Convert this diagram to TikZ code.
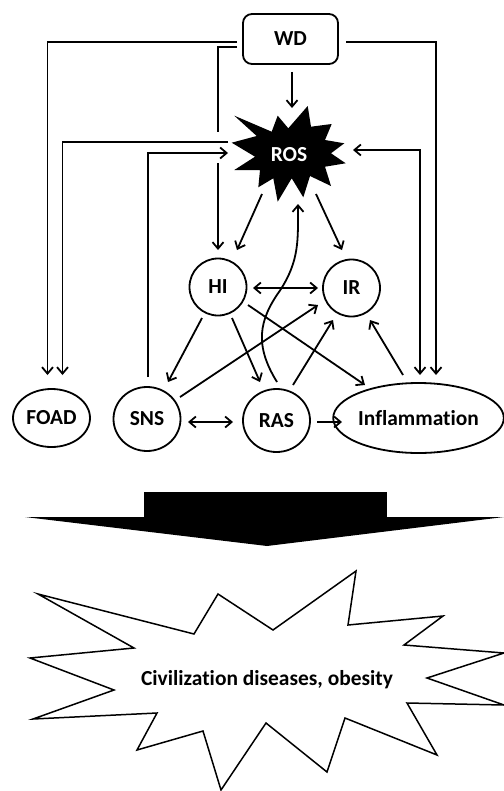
\documentclass[tikz,border=0pt]{standalone}
\usepackage{fontspec}
\setmainfont{Carlito}[Ligatures={NoCommon}]
\usetikzlibrary{arrows.meta,calc,shapes.geometric}
\begin{document}
\begin{tikzpicture}[x=1bp,y=-1bp, line width=1.8bp,
 tip/.tip={Straight Barb[length=6.5bp,width=11bp]},
 arr/.style={-tip},
 darr/.style={tip-tip},
 lbl/.style={font=\fontsize{21.5}{24}\selectfont\bfseries},
 oval/.style={ellipse, draw, lbl, inner sep=0pt},
]
\useasboundingbox (0,0) rectangle (504,791);

% nodes
\node[draw, rounded corners=9bp, minimum width=95bp, minimum height=50bp, lbl] (WD) at (290.5,39) {WD};
\fill (234.3,115.7) -- (271.7,131.7) -- (277.7,115.7) -- (288.3,128.3) -- (307.7,106) -- (311,126.7)
  -- (331.7,124) -- (325,140) -- (344.3,143.3) -- (331,153.3) -- (345.7,163.3) -- (325,166.7)
  -- (331,186) -- (310,176) -- (303.3,197.3) -- (291.7,178.3) -- (277.7,201.7) -- (273.3,178.3)
  -- (258.3,187.3) -- (260,170) -- (234.3,170) -- (255,156.7) -- (231.7,142.7) -- (256.7,136) -- cycle;
\node[lbl, text=white] (ROS) at (289,155) {ROS};
\node[oval, minimum width=57bp, minimum height=57bp] (HI) at (218,287) {HI};
\node[oval, minimum width=57bp, minimum height=57bp] (IR) at (351.5,288) {IR};
\node[oval, minimum width=77bp, minimum height=58bp] (FOAD) at (51.5,418) {FOAD};
\node[oval, minimum width=67bp, minimum height=64bp] (SNS) at (147,419) {SNS};
\node[oval, minimum width=67bp, minimum height=63bp] (RAS) at (276.5,420.5) {RAS};
\node[oval, minimum width=147bp, minimum height=70bp] (INF) at (418.5,418) {Inflammation};

% connectors
\draw[arr] ($(WD)+(1.5,33)$) -- ($(ROS)+(3,-47)$);
\draw[arr] ($(WD)+(-53.5,3)$) -| ($(FOAD)+(-4,-43)$);
\draw ($(WD)+(-53.5,8)$) -| ($(HI)+(0,-155)$);
\draw[arr] ($(HI)+(0,-124)$) -- ($(HI)+(0,-37)$);
\draw[arr] ($(WD)+(55.5,3)$) -| ($(INF)+(17.5,-43)$);
\draw[arr] ($(ROS)+(-61,-13)$) -| ($(FOAD)+(11,-43)$);
\draw[arr] ($(SNS)+(1,-42)$) |- ($(ROS)+(-61,-2)$);
\draw[darr] ($(ROS)+(64,-5)$) -| ($(INF)+(1.5,-43)$);
\draw[arr] ($(ROS)+(-27,39)$) -- ($(HI)+(19,-37)$);
\draw[arr] ($(ROS)+(27,39)$) -- ($(IR)+(-9.5,-38)$);
\draw[darr] ($(HI)+(35,1)$) -- ($(IR)+(-33.5,0)$);
\draw[arr] ($(HI)+(-16,31)$) -- ($(SNS)+(21,-37)$);
\draw[arr] ($(HI)+(14,31)$) -- ($(RAS)+(-16.5,-38.5)$);
\draw[arr] ($(HI)+(30,18)$) -- ($(INF)+(-53.5,-33)$);
\draw[arr] ($(SNS)+(33,-22)$) -- ($(IR)+(-33.5,17)$);
\draw[arr] ($(RAS)+(16.5,-35.5)$) -- ($(IR)+(-18.5,32)$);
\draw[arr] ($(INF)+(-15.5,-43)$) -- ($(IR)+(18.5,32)$);
\draw[darr] ($(SNS)+(41,3)$) -- ($(RAS)+(-43.5,1.5)$);
\draw[arr] ($(RAS)+(40.5,1.5)$) -- ($(INF)+(-76.5,4)$);
\draw[arr] ($(RAS)+(0.5,-38.5)$) .. controls ($(RAS)+(-22,-75)$) and ($(RAS)+(-18,-100)$) .. ($(RAS)+(3.5,-130)$)
  .. controls ($(RAS)+(23,-160)$) and ($(ROS)+(9,85)$) .. ($(ROS)+(9,49)$);

% big arrow
\fill (144,492) rectangle (387,518);
\fill (25,517) -- (504,517) -- (267,546) -- cycle;

% bottom burst
\draw[fill=white, line width=1.5bp] (38,594) -- (134,648) -- (30,658) -- (114,690) -- (33,719) -- (157,713) -- (137,750)
  -- (203,731) -- (221,790) -- (266,723) -- (327,772) -- (345,718) -- (437,755) -- (407,703)
  -- (504,705) -- (427,678) -- (504,653) -- (404,645) -- (443,616) -- (348,625) -- (356,571)
  -- (273,630) -- (218,594) -- (194,634) -- cycle;
\node[lbl] (CIV) at (267,680) {Civilization diseases, obesity};
\end{tikzpicture}
\end{document}
